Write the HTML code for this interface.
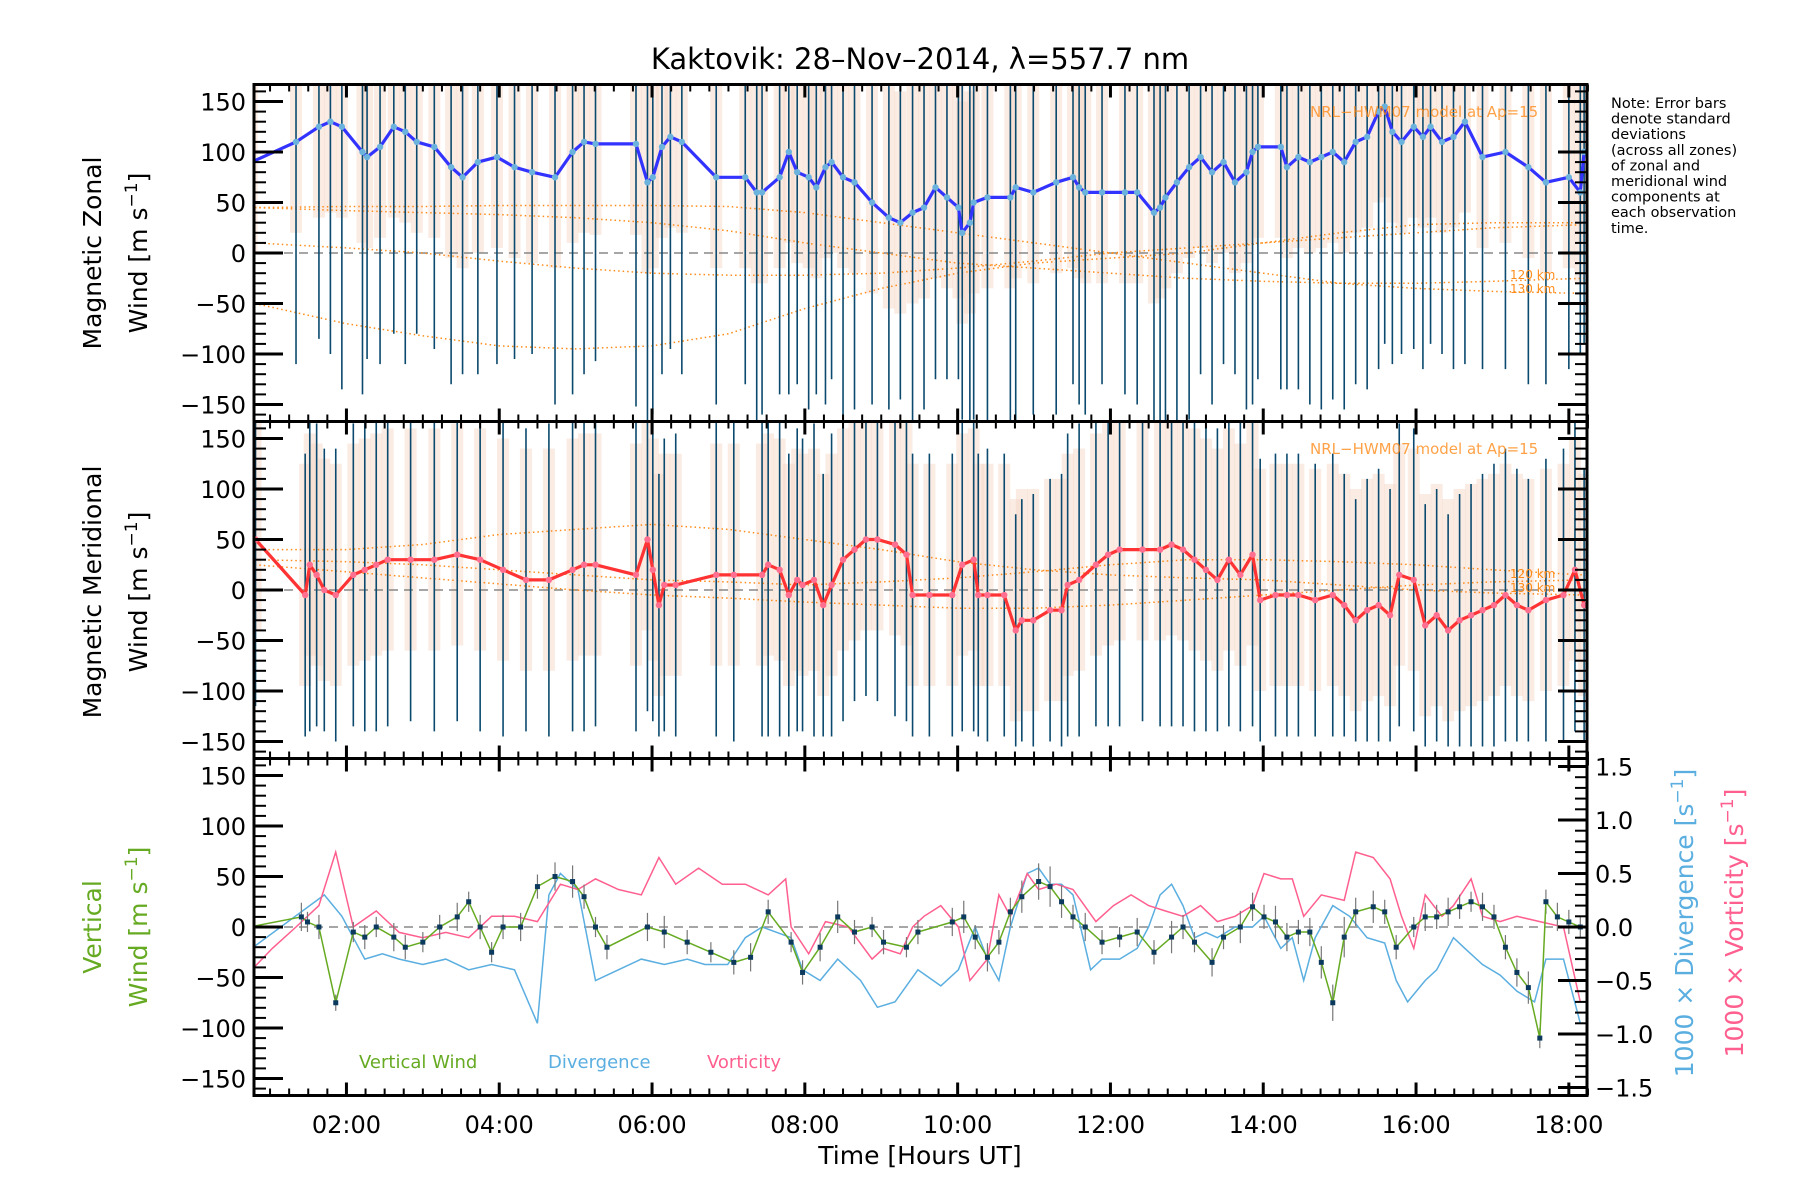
<!DOCTYPE html>
<html><head><meta charset="utf-8">
<style>
html,body{margin:0;padding:0;background:#fff;}
svg{display:block;}
text{font-family:"DejaVu Sans","Liberation Sans",sans-serif;}
</style></head>
<body>
<svg id="chart" width="1800" height="1200" viewBox="0 0 1800 1200" xmlns="http://www.w3.org/2000/svg">
<defs>
<clipPath id="c1"><rect x="254" y="84.5" width="1333" height="337"/></clipPath>
<clipPath id="c2"><rect x="254" y="421.5" width="1333" height="337"/></clipPath>
<clipPath id="c3"><rect x="254" y="758.5" width="1333" height="337"/></clipPath>
</defs>
<text x="920" y="69" font-size="29" text-anchor="middle">Kaktovik: 28–Nov–2014, λ=557.7 nm</text>
<g id="layer"></g>
<text font-size="14.5" x="1611" y="108">
<tspan x="1611" dy="0">Note: Error bars</tspan><tspan x="1611" dy="15.6">denote standard</tspan><tspan x="1611" dy="15.6">deviations</tspan><tspan x="1611" dy="15.6">(across all zones)</tspan><tspan x="1611" dy="15.6">of zonal and</tspan><tspan x="1611" dy="15.6">meridional wind</tspan><tspan x="1611" dy="15.6">components at</tspan><tspan x="1611" dy="15.6">each observation</tspan><tspan x="1611" dy="15.6">time.</tspan></text>
<text font-size="25" text-anchor="middle" transform="translate(101,253) rotate(-90)">Magnetic Zonal</text>
<text font-size="25" text-anchor="middle" transform="translate(147,253) rotate(-90)">Wind [m s<tspan dy="-10" font-size="17">−1</tspan><tspan dy="10">]</tspan></text>
<text font-size="25" text-anchor="middle" transform="translate(101,592) rotate(-90)">Magnetic Meridional</text>
<text font-size="25" text-anchor="middle" transform="translate(147,592) rotate(-90)">Wind [m s<tspan dy="-10" font-size="17">−1</tspan><tspan dy="10">]</tspan></text>
<text font-size="25" fill="#66aa22" text-anchor="middle" transform="translate(101,927) rotate(-90)">Vertical</text>
<text font-size="25" fill="#66aa22" text-anchor="middle" transform="translate(147,927) rotate(-90)">Wind [m s<tspan dy="-10" font-size="17">−1</tspan><tspan dy="10">]</tspan></text>
<text font-size="25" fill="#5aaee0" text-anchor="middle" transform="translate(1693,923) rotate(-90)">1000 × Divergence [s<tspan dy="-10" font-size="17">−1</tspan><tspan dy="10">]</tspan></text>
<text font-size="25" fill="#ff5f8f" text-anchor="middle" transform="translate(1743,923) rotate(-90)">1000 × Vorticity [s<tspan dy="-10" font-size="17">−1</tspan><tspan dy="10">]</tspan></text>
<text font-size="25" x="920" y="1164" text-anchor="middle">Time [Hours UT]</text>
<text font-size="18" fill="#66aa22" x="359" y="1068">Vertical Wind</text>
<text font-size="18" fill="#5aaee0" x="548" y="1068">Divergence</text>
<text font-size="18" fill="#ff5f8f" x="707" y="1068">Vorticity</text>
<text font-size="15" fill="#ff8c1a" x="1310" y="117" opacity="0.8">NRL−HWM07 model at Ap=15</text>
<text font-size="15" fill="#ff8c1a" x="1310" y="454" opacity="0.8">NRL−HWM07 model at Ap=15</text>
<text font-size="12" fill="#ff8c1a" x="1510" y="279">120 km</text>
<text font-size="12" fill="#ff8c1a" x="1510" y="293">130 km</text>
<text font-size="12" fill="#ff8c1a" x="1510" y="578">120 km</text>
<text font-size="12" fill="#ff8c1a" x="1510" y="592">130 km</text>
</svg>
<script>
// ---------- data ----------
const zonalTime=[0.73,0.76,1.34,1.64,1.79,1.94,2.21,2.27,2.44,2.62,2.77,2.92,3.15,3.37,3.52,3.72,3.97,4.20,4.43,4.73,4.96,5.11,5.26,5.79,5.94,6.01,6.13,6.24,6.39,6.84,7.22,7.37,7.44,7.67,7.79,7.90,8.05,8.15,8.27,8.35,8.50,8.65,8.88,9.10,9.25,9.41,9.56,9.71,9.86,10.01,10.06,10.16,10.21,10.39,10.69,10.76,10.99,11.29,11.51,11.59,11.67,11.89,12.19,12.35,12.57,12.65,12.72,12.87,13.03,13.18,13.33,13.48,13.63,13.78,13.86,13.93,14.23,14.31,14.46,14.61,14.76,14.91,15.06,15.21,15.36,15.51,15.59,15.69,15.81,15.97,16.09,16.19,16.34,16.49,16.64,16.87,17.17,17.47,17.70,18.00,18.15,18.20];
const zonalWind=[95,90,110,125,130,125,100,95,105,125,120,110,105,85,75,90,95,85,80,75,100,110,108,108,70,75,105,115,110,75,75,60,60,75,100,80,75,65,85,90,75,70,50,35,30,40,45,65,55,45,20,30,50,55,55,65,60,70,75,65,60,60,60,60,40,45,55,70,85,95,80,90,70,80,100,105,105,85,95,90,95,100,90,110,115,140,145,120,110,125,115,125,110,115,130,95,100,85,70,75,60,100];
const zonalSd=[200,190,220,210,230,260,240,200,215,205,230,190,200,215,195,210,205,190,180,225,240,230,215,260,245,235,225,210,230,225,205,230,220,215,240,210,230,205,235,215,240,225,200,190,175,210,200,190,180,170,185,200,215,225,230,240,220,230,205,215,220,190,200,210,210,225,235,240,250,215,230,200,190,235,250,230,240,220,230,240,250,245,245,240,250,255,235,230,210,220,230,215,210,230,240,210,215,215,200,190,160,190];
const meridTime=[0.73,0.81,1.46,1.52,1.61,1.71,1.86,2.09,2.24,2.39,2.54,2.84,3.15,3.45,3.75,4.05,4.35,4.65,4.96,5.11,5.26,5.79,5.94,6.01,6.09,6.16,6.31,6.84,7.07,7.44,7.52,7.67,7.79,7.90,7.97,8.12,8.24,8.35,8.50,8.65,8.80,8.95,9.18,9.33,9.41,9.63,9.93,10.06,10.21,10.27,10.39,10.61,10.76,10.84,10.99,11.21,11.36,11.44,11.59,11.81,11.97,12.12,12.42,12.65,12.80,12.95,13.10,13.25,13.40,13.55,13.70,13.86,13.96,14.16,14.31,14.46,14.68,14.91,15.06,15.21,15.36,15.51,15.66,15.78,15.97,16.12,16.27,16.42,16.57,16.72,16.87,17.02,17.17,17.32,17.47,17.70,17.93,18.08,18.20];
const meridWind=[55,50,-5,25,15,0,-5,15,20,25,30,30,30,35,30,20,10,10,20,25,25,15,50,20,-15,5,5,15,15,15,25,20,-5,10,5,10,-15,5,30,40,50,50,45,35,-5,-5,-5,25,30,-5,-5,-5,-40,-30,-30,-20,-20,5,10,25,35,40,40,40,45,40,30,20,10,30,15,35,-10,-5,-5,-5,-10,-5,-15,-30,-20,-15,-25,15,10,-35,-25,-40,-30,-25,-20,-15,-5,-15,-20,-10,-5,20,-15];
const meridSd=[170,165,140,165,150,140,145,150,160,165,165,160,170,165,170,165,150,155,160,165,160,155,170,150,130,145,150,160,165,160,170,165,140,150,145,155,130,150,160,150,155,160,170,165,140,140,140,165,170,140,145,140,115,120,125,130,135,150,155,160,170,175,170,175,180,175,170,160,150,165,155,170,140,140,140,140,135,140,130,120,130,135,125,150,150,120,125,115,125,130,135,140,145,135,130,140,145,160,135];
const vertTime=[0.73,1.41,1.49,1.64,1.86,2.09,2.24,2.39,2.62,2.77,3.00,3.22,3.45,3.60,3.75,3.90,4.05,4.28,4.50,4.73,4.96,5.11,5.26,5.41,5.94,6.16,6.46,6.77,7.07,7.29,7.52,7.82,7.97,8.20,8.43,8.65,8.88,9.03,9.33,9.48,9.93,10.08,10.23,10.39,10.54,10.69,10.84,11.06,11.21,11.36,11.51,11.67,11.89,12.12,12.35,12.57,12.80,12.95,13.10,13.33,13.48,13.70,13.86,14.01,14.16,14.31,14.46,14.61,14.76,14.91,15.06,15.21,15.44,15.59,15.74,15.97,16.12,16.27,16.42,16.57,16.72,16.87,17.02,17.17,17.32,17.47,17.62,17.70,17.85,18.00,18.15];
const vertWind=[0,10,5,0,-75,-5,-10,0,-10,-20,-15,0,10,25,0,-25,0,0,40,50,45,30,0,-20,0,-5,-15,-25,-35,-30,15,-15,-45,-20,10,-5,0,-15,-20,-5,5,10,-10,-30,-15,15,30,45,40,25,10,0,-15,-10,-5,-25,-10,0,-15,-35,-10,0,20,10,5,-10,-5,-5,-35,-75,-10,15,20,15,-20,0,10,10,15,20,25,20,10,-20,-45,-60,-110,25,10,5,0];
const vertErr=[12,14,10,12,8,10,12,10,14,12,10,12,14,10,12,10,12,14,12,14,16,12,10,12,14,16,12,10,12,14,12,10,12,14,16,12,10,12,10,12,14,16,12,14,12,14,16,18,20,16,12,14,12,10,14,12,16,12,10,14,12,16,14,12,16,14,12,14,16,18,20,14,16,12,12,10,14,12,14,12,10,14,12,12,14,16,10,12,14,12,10];
const divTime=[0.76,1.71,1.94,2.09,2.24,2.47,2.69,3.00,3.30,3.60,3.90,4.20,4.50,4.65,4.80,5.03,5.26,5.56,5.86,6.16,6.46,6.69,6.99,7.22,7.44,7.82,7.97,8.20,8.43,8.73,8.95,9.18,9.48,9.78,10.01,10.23,10.39,10.54,10.69,10.91,11.06,11.21,11.36,11.51,11.74,11.89,12.12,12.35,12.50,12.65,12.80,12.95,13.10,13.25,13.40,13.63,13.86,14.01,14.23,14.38,14.53,14.68,14.91,15.13,15.36,15.59,15.74,15.89,16.12,16.27,16.49,16.64,16.87,17.10,17.32,17.55,17.70,17.93,18.15];
const divergence=[-0.2,0.3,0.1,-0.1,-0.3,-0.25,-0.3,-0.35,-0.3,-0.4,-0.35,-0.4,-0.9,0.3,0.5,0.35,-0.5,-0.4,-0.3,-0.35,-0.3,-0.35,-0.35,-0.1,0.0,-0.1,-0.4,-0.5,-0.3,-0.5,-0.75,-0.7,-0.4,-0.55,-0.4,0.0,-0.3,-0.5,0.0,0.5,0.55,0.4,0.4,0.3,-0.4,-0.3,-0.3,-0.2,0.0,0.3,0.4,0.2,-0.1,-0.05,-0.1,0.0,0.0,0.1,-0.2,-0.1,-0.5,-0.1,0.2,0.1,-0.1,-0.15,-0.5,-0.7,-0.5,-0.4,-0.1,-0.2,-0.35,-0.45,-0.6,-0.7,-0.3,-0.3,-0.9];
const vortTime=[0.76,1.03,1.34,1.64,1.86,2.09,2.39,2.69,3.00,3.30,3.60,3.90,4.20,4.50,4.80,5.03,5.26,5.56,5.86,6.09,6.31,6.61,6.92,7.22,7.52,7.75,7.82,8.05,8.27,8.57,8.88,9.03,9.25,9.41,9.56,9.78,10.01,10.16,10.39,10.54,10.69,10.91,11.06,11.29,11.51,11.81,12.04,12.27,12.50,12.72,12.95,13.18,13.40,13.63,13.86,14.01,14.23,14.38,14.53,14.76,15.06,15.21,15.44,15.66,15.81,15.97,16.12,16.34,16.49,16.72,16.87,17.10,17.32,17.62,17.93,18.15];
const vorticity=[-0.4,-0.2,0.0,0.2,0.7,0.0,0.15,-0.05,-0.1,-0.05,-0.1,0.1,0.1,0.05,0.4,0.35,0.45,0.35,0.3,0.65,0.4,0.55,0.4,0.4,0.3,0.45,0.0,-0.25,0.05,0.0,-0.3,-0.2,-0.25,0.0,0.1,0.2,0.0,-0.5,-0.3,0.3,0.1,0.5,0.35,0.4,0.35,0.05,0.2,0.3,0.2,0.15,0.1,0.2,0.05,0.1,0.2,0.5,0.45,0.45,0.1,0.3,0.25,0.7,0.65,0.45,0.1,-0.2,0.3,0.1,0.2,0.45,0.1,0.05,0.1,0.05,0.0,-0.7];
const modelTime=[0.8,2,3,4,5,6,7,8,9,10,11,12,13,14,15,16,17,18.2];
const zModelA=[45,46,46,47,47,47,46,40,30,20,10,0,-10,-20,-30,-35,-38,-40];
const zModelB=[10,5,0,-8,-15,-20,-22,-22,-20,-15,-8,0,5,10,15,20,25,28];
const zModelC=[-50,-70,-82,-92,-95,-92,-80,-55,-35,-20,-10,-5,0,10,20,28,30,30];
const zModelD=[45,42,40,38,35,30,22,10,0,-10,-15,-20,-25,-28,-30,-30,-28,-25];
const mModelA=[40,40,45,55,60,65,60,50,40,28,20,15,12,10,5,0,-3,-5];
const mModelB=[25,18,12,6,0,-5,-8,-12,-15,-18,-18,-15,-10,-5,0,5,8,10];
const mModelC=[30,28,25,20,15,10,8,5,8,12,18,25,30,30,28,25,20,15];
const xTickHours=[2,4,6,8,10,12,14,16,18];
const xTickLabels=["02:00","04:00","06:00","08:00","10:00","12:00","14:00","16:00","18:00"];
const yTickVals=[150,100,50,0,-50,-100,-150];
const yTickLabels=["150","100","50","0","−50","−100","−150"];
const rTickVals=[1.5,1.0,0.5,0.0,-0.5,-1.0,-1.5];
const rTickLabels=["1.5","1.0","0.5","0.0","−0.5","−1.0","−1.5"];

// ---------- scales ----------
const L=254,R=1587,H=337,TOPS=[84.5,421.5,758.5];
const X=h=>L+(h-0.79)*76.4;
const Y=(p,v)=>TOPS[p]+H/2-v*1.01;
const YR=v=>TOPS[2]+H/2-v*107;
const NS="http://www.w3.org/2000/svg";
const layer=document.getElementById('layer');
function mk(tag,attrs,parent){const e=document.createElementNS(NS,tag);for(const k in attrs)e.setAttribute(k,attrs[k]);(parent||layer).appendChild(e);return e;}
function grp(clip){const g=mk('g',clip?{'clip-path':'url(#'+clip+')'}:{});return g;}
function pts(ts,vs,fy){return ts.map((t,i)=>X(t).toFixed(1)+','+fy(vs[i]).toFixed(1)).join(' ');}

[[0,'c1',zonalTime,zonalWind,zonalSd,[zModelA,zModelB,zModelC,zModelD],'#3333ff','#6bb3dd','zonal'],
 [1,'c2',meridTime,meridWind,meridSd,[mModelA,mModelB,mModelC],'#ff3333','#ff6f8f','meridional']].forEach(cfg=>{
  const [p,clip,ts,vs,sd,models,lc,pc,nm]=cfg;
  const g=grp(clip);
  
  
  ts.forEach((t,i)=>{
    const r=mk('rect',{x:X(t)-6,y:Y(p,vs[i]+130),width:12,height:Y(p,vs[i]-90)-Y(p,vs[i]+130),fill:'#f3d2c0',opacity:0.45},g);
    
    
  });
  const z=mk('line',{x1:L,x2:R,y1:Y(p,0),y2:Y(p,0),stroke:'#888','stroke-width':1.5,'stroke-dasharray':'9,6'},g);
  
  
  models.forEach(m=>{
    const pl=mk('polyline',{points:pts(modelTime,m,v=>Y(p,v)),fill:'none',stroke:'#ff8c1a','stroke-width':1.5,'stroke-dasharray':'1.5,3'},g);
    
    
  });
  ts.forEach((t,i)=>{
    const s=sd[i]||160;
    const b=mk('line',{x1:X(t),x2:X(t),y1:Y(p,vs[i]+s),y2:Y(p,vs[i]-s),stroke:'#0b4a6e','stroke-width':1.6},g);
    
    
  });
  const ln=mk('polyline',{points:pts(ts,vs,v=>Y(p,v)),fill:'none',stroke:lc,'stroke-width':3.2,'stroke-linejoin':'round'},g);
  
  
  ts.forEach((t,i)=>{
    const c=mk('circle',{cx:X(t),cy:Y(p,vs[i]),r:3.2,fill:pc},g);
    
    
  });
});

{
  const g=grp('c3');
  
  
  const z=mk('line',{x1:L,x2:R,y1:Y(2,0),y2:Y(2,0),stroke:'#888','stroke-width':1.5,'stroke-dasharray':'9,6'},g);
  
  
  const dv=mk('polyline',{points:pts(divTime,divergence,YR),fill:'none',stroke:'#5aaee0','stroke-width':1.5},g);
  
  
  const vo=mk('polyline',{points:pts(vortTime,vorticity,YR),fill:'none',stroke:'#ff5f8f','stroke-width':1.5},g);
  
  
  vertTime.forEach((t,i)=>{
    const e=vertErr[i]||12;
    const b=mk('line',{x1:X(t),x2:X(t),y1:Y(2,vertWind[i]+e),y2:Y(2,vertWind[i]-e),stroke:'#777','stroke-width':1.2},g);
    
    
  });
  const vw=mk('polyline',{points:pts(vertTime,vertWind,v=>Y(2,v)),fill:'none',stroke:'#66aa22','stroke-width':1.5},g);
  
  
  vertTime.forEach((t,i)=>{
    const r=mk('rect',{x:X(t)-2.5,y:Y(2,vertWind[i])-2.5,width:5,height:5,fill:'#0b3a5e'},g);
    
    
  });
}

for(let p=0;p<3;p++){
  const T=TOPS[p];
  const fr=mk('rect',{x:L,y:T,width:R-L,height:H,fill:'none',stroke:'#000','stroke-width':3});
  
  
  for(let v=-160;v<=160;v+=10){
    const major=v%50===0;const len=major?29:12;
    const yy=Y(p,v);
    if(yy<T+1||yy>T+H-1)continue;
    const t=mk('line',{x1:L,x2:L+len,y1:yy,y2:yy,stroke:'#000','stroke-width':major?3:2});
    
    
    if(p<2){const t2=mk('line',{x1:R,x2:R-len,y1:yy,y2:yy,stroke:'#000','stroke-width':major?3:2});
      
      }
  }
  yTickVals.forEach((v,i)=>{
    const tx=mk('text',{x:L-8,y:Y(p,v)+9,'font-size':24,'text-anchor':'end'});
    tx.textContent=yTickLabels[i];
    
    
  });
  for(let h=1;h<=18.25;h+=0.25){
    const major=Math.abs(h%2)<1e-6;const len=major?13:7;
    const xx=X(h);
    [[T,T+len],[T+H,T+H-len]].forEach(s=>{
      const t=mk('line',{x1:xx,x2:xx,y1:s[0],y2:s[1],stroke:'#000','stroke-width':major?3:2});
      
      
    });
  }
}
for(let v=-1.5;v<=1.501;v+=0.1){
  const major=Math.abs(Math.round(v*10)%5)===0;const len=major?29:12;
  const yy=YR(v);
  const t=mk('line',{x1:R,x2:R-len,y1:yy,y2:yy,stroke:'#000','stroke-width':major?3:2});
  
  
}
rTickVals.forEach((v,i)=>{
  const tx=mk('text',{x:R+8,y:YR(v)+9,'font-size':24});
  tx.textContent=rTickLabels[i];
  
  
});
xTickHours.forEach((h,i)=>{
  const tx=mk('text',{x:X(h),y:1133,'font-size':24,'text-anchor':'middle'});
  tx.textContent=xTickLabels[i];
  
  
});
</script>
</body></html>
